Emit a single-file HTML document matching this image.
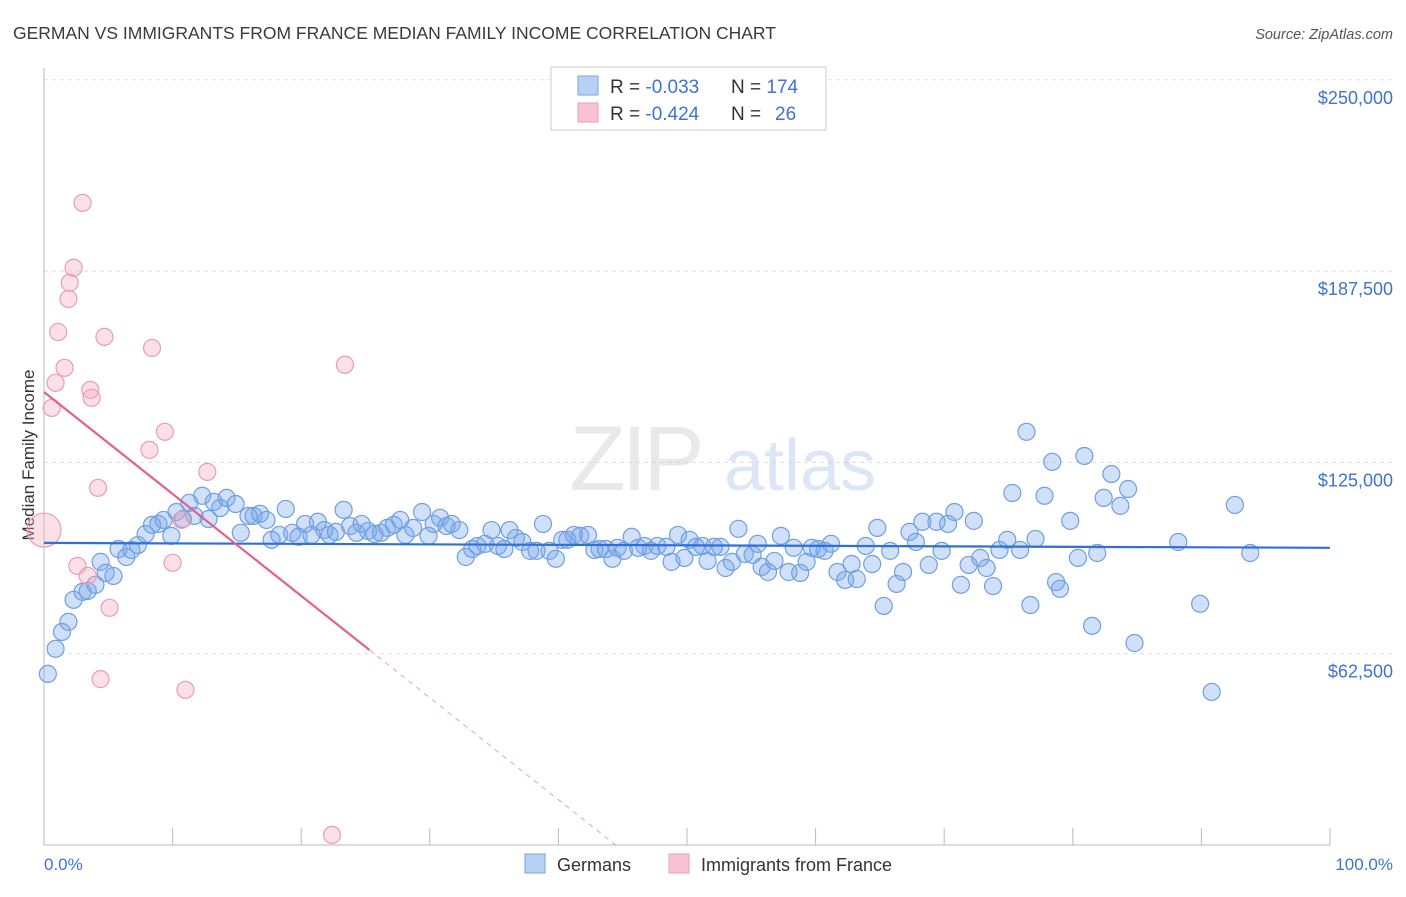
<!DOCTYPE html>
<html><head><meta charset="utf-8">
<style>
body{margin:0;background:#fff;font-family:"Liberation Sans",sans-serif;}
svg text{font-family:"Liberation Sans",sans-serif;}
</style></head>
<body>
<svg id="chart" width="1406" height="892" viewBox="0 0 1406 892" xmlns="http://www.w3.org/2000/svg">
<text x="13" y="39" font-size="17.5" fill="#3a3a3a">GERMAN VS IMMIGRANTS FROM FRANCE MEDIAN FAMILY INCOME CORRELATION CHART</text>
<text x="1393" y="39" font-size="14.5" fill="#555" text-anchor="end" font-style="italic">Source: ZipAtlas.com</text>
<g id="grid"></g>
<g opacity="0.5">
<text x="635" y="490" font-size="92" fill="#d5d5d5" text-anchor="middle" font-family="Liberation Serif" letter-spacing="-4">ZIP</text>
<text x="800" y="490" font-size="72" fill="#b9cfee" text-anchor="middle">atlas</text>
</g>
<line x1="44" y1="68" x2="44" y2="845" stroke="#bbb"/>
<line x1="44" y1="845" x2="1330" y2="845" stroke="#bbb"/>
<g id="ticks"></g>
<g id="ylabels"></g>
<text transform="translate(34,455) rotate(-90)" font-size="17" fill="#333" text-anchor="middle">Median Family Income</text>
<text x="44" y="870" font-size="17" fill="#3f73d0">0.0%</text>
<text x="1393" y="870" font-size="17" fill="#3f73d0" text-anchor="end">100.0%</text>
<g id="pts-blue"></g>
<g id="pts-pink"></g>
<g id="trends"></g>
<g>
<rect x="551" y="67" width="275" height="63" fill="#fff" stroke="#ccc"/>
<rect x="578" y="76" width="20" height="19" fill="#b8d0f3" stroke="#7aa3e3"/>
<rect x="578" y="103" width="20" height="19" fill="#f8c4d4" stroke="#ea9cb6"/>
<text x="610" y="93" font-size="19" fill="#333">R = <tspan fill="#3f73d0">-0.033</tspan><tspan x="731">N = </tspan><tspan fill="#3f73d0">174</tspan></text>
<text x="610" y="120" font-size="19" fill="#333">R = <tspan fill="#3f73d0">-0.424</tspan><tspan x="731">N = </tspan><tspan x="775" fill="#3f73d0">26</tspan></text>
</g>
<g>
<rect x="525" y="854" width="20" height="19" fill="#b8d0f3" stroke="#7aa3e3"/>
<text x="557" y="871" font-size="18" fill="#333">Germans</text>
<rect x="669" y="854" width="20" height="19" fill="#f8c4d4" stroke="#ea9cb6"/>
<text x="701" y="871" font-size="18" fill="#333">Immigrants from France</text>
</g>
</svg>
<script>
const yTicks=[62500,125000,187500,250000];
const yTickLabels=["$62,500","$125,000","$187,500","$250,000"];
const xTicks=[0,10,20,30,40,50,60,70,80,90,100];
const blueX=[0.3,0.9,1.4,1.9,2.3,3.0,3.4,4.0,4.4,4.8,5.4,5.8,6.4,6.8,7.3,7.9,8.4,8.9,9.3,9.9,10.3,10.8,11.3,11.7,12.3,12.8,13.2,13.7,14.2,14.9,15.3,15.9,16.3,16.8,17.3,17.7,18.3,18.8,19.3,19.8,20.3,20.8,21.3,21.8,22.2,22.7,23.3,23.8,24.3,24.7,25.2,25.7,26.2,26.7,27.2,27.7,28.1,28.7,29.4,29.9,30.3,30.8,31.3,31.7,32.3,32.8,33.3,33.7,34.3,34.8,35.3,35.8,36.2,36.7,37.2,37.8,38.3,38.8,39.3,39.8,40.3,40.7,41.2,41.7,42.3,42.8,43.2,43.7,44.2,44.6,45.1,45.7,46.2,46.7,47.2,47.7,48.4,48.8,49.3,49.8,50.2,50.7,51.2,51.6,52.1,52.6,53.0,53.5,54.0,54.5,55.1,55.5,55.8,56.3,56.8,57.3,57.9,58.3,58.8,59.3,59.7,60.2,60.7,61.2,61.7,62.3,62.8,63.2,63.9,64.4,64.8,65.3,65.8,66.3,66.8,67.3,67.8,68.3,68.8,69.4,69.8,70.3,70.8,71.3,71.9,72.3,72.8,73.3,73.8,74.3,74.9,75.3,75.9,76.4,76.7,77.1,77.8,78.4,78.7,79.0,79.8,80.4,80.9,81.5,81.9,82.4,83.0,83.7,84.3,84.8,88.2,89.9,90.8,92.6,93.8];
const blueY=[55.9,64.1,69.6,72.9,80.1,82.7,83.0,85.0,92.5,88.9,87.9,96.7,94.1,96.4,98.0,101.6,104.6,104.9,106.2,101.0,108.8,106.5,111.8,107.5,114.1,106.5,112.1,110.1,113.4,111.4,102.0,107.5,107.5,108.2,106.2,99.7,101.3,109.8,102.0,100.7,104.9,101.3,105.6,102.9,101.3,102.3,109.5,104.2,102.0,104.9,102.6,101.6,102.0,103.6,104.6,106.2,101.3,103.6,108.8,101.0,104.9,106.9,104.2,104.9,102.9,94.1,96.7,97.7,98.4,102.9,97.7,96.7,102.9,100.3,99.0,96.1,96.1,104.9,96.1,93.5,99.7,99.7,101.3,101.0,101.3,96.4,96.7,96.7,93.5,97.1,96.1,100.7,97.1,97.7,96.1,97.7,97.4,92.5,101.3,93.8,99.7,97.4,97.7,92.8,97.4,97.4,90.5,92.5,103.3,95.1,94.8,98.4,90.9,89.2,92.8,101.0,89.2,97.1,88.9,92.5,97.1,96.7,96.1,98.4,89.2,86.6,91.8,86.9,97.7,91.8,103.6,78.1,96.1,85.3,89.2,102.3,99.0,105.6,91.5,105.6,96.1,104.9,108.8,85.0,91.5,105.9,93.8,90.5,84.6,96.4,99.7,115.0,96.4,135.0,78.4,100.0,114.1,125.2,85.9,83.7,105.9,93.8,127.1,71.6,95.4,113.4,121.2,110.8,116.3,66.0,99.0,78.8,50.0,111.1,95.4];
const pinkX=[0.0,0.6,0.9,1.1,1.6,1.9,2.0,2.3,2.6,3.0,3.4,3.6,3.7,4.2,4.4,4.7,5.1,8.2,8.4,9.4,10.0,10.7,11.0,12.7,22.4,23.4];
const pinkY=[102.9,142.8,151.0,167.6,155.9,178.4,183.7,188.6,91.2,209.8,87.9,148.7,146.1,116.7,54.2,166.0,77.5,129.1,162.4,135.0,92.2,106.2,50.7,121.9,3.3,156.9];
const blueTrend=[98.7,97.1];
const pinkTrend=[148.0,-3.33];
const pinkSolidEnd=[25.3];

const NS="http://www.w3.org/2000/svg";
const X0=44,X1=1330,YB=845,PX_PER_K=191.3/62.5;
const sx=v=>X0+(X1-X0)*v/100;
const sy=v=>YB-v*PX_PER_K;
function mk(tag,attrs,parent){const e=document.createElementNS(NS,tag);for(const k in attrs)e.setAttribute(k,attrs[k]);parent.appendChild(e);return e;}
const grid=document.getElementById('grid'),yl=document.getElementById('ylabels');
yTicks.forEach((t,i)=>{
  const y=sy(t/1000);
  const l=mk('line',{x1:44,x2:1393,y1:y,y2:y,stroke:'#ddd','stroke-dasharray':'4,4'},grid);
  
  
  const tx=mk('text',{x:1393,y:y+24,'font-size':18,fill:'#3f73d0','text-anchor':'end'},yl);
  tx.textContent=yTickLabels[i];
  
  
});
const tk=document.getElementById('ticks');
xTicks.forEach(t=>{
  const l=mk('line',{x1:sx(t),x2:sx(t),y1:828,y2:845,stroke:'#bbb'},tk);
  
  
});
const gb=document.getElementById('pts-blue');
blueX.forEach((x,i)=>{
  const c=mk('circle',{cx:sx(x),cy:sy(blueY[i]),r:8.5,fill:'rgba(120,165,235,0.35)',stroke:'#6f9fe2','stroke-width':1.2},gb);
  
  
});
const gp=document.getElementById('pts-pink');
pinkX.forEach((x,i)=>{
  const c=mk('circle',{cx:sx(x),cy:sy(pinkY[i]),r:i===0?17:8.5,fill:'rgba(245,165,190,0.35)',stroke:'#ea9cb6','stroke-width':1.2},gp);
  
  
});
const tr=document.getElementById('trends');
const b=mk('line',{x1:sx(0),y1:sy(blueTrend[0]),x2:sx(100),y2:sy(blueTrend[1]),stroke:'#2f6fd6','stroke-width':2.2},tr);


const pf=x=>pinkTrend[0]+pinkTrend[1]*x;
const xe=pinkSolidEnd[0],xz=-pinkTrend[0]/pinkTrend[1];
const p=mk('line',{x1:sx(0),y1:sy(pf(0)),x2:sx(xe),y2:sy(pf(xe)),stroke:'#e5608e','stroke-width':2.2},tr);


const pd=mk('line',{x1:sx(xe),y1:sy(pf(xe)),x2:sx(xz),y2:sy(0),stroke:'#eaa0b8','stroke-width':1,'stroke-dasharray':'5,5'},tr);


</script>
</body></html>
